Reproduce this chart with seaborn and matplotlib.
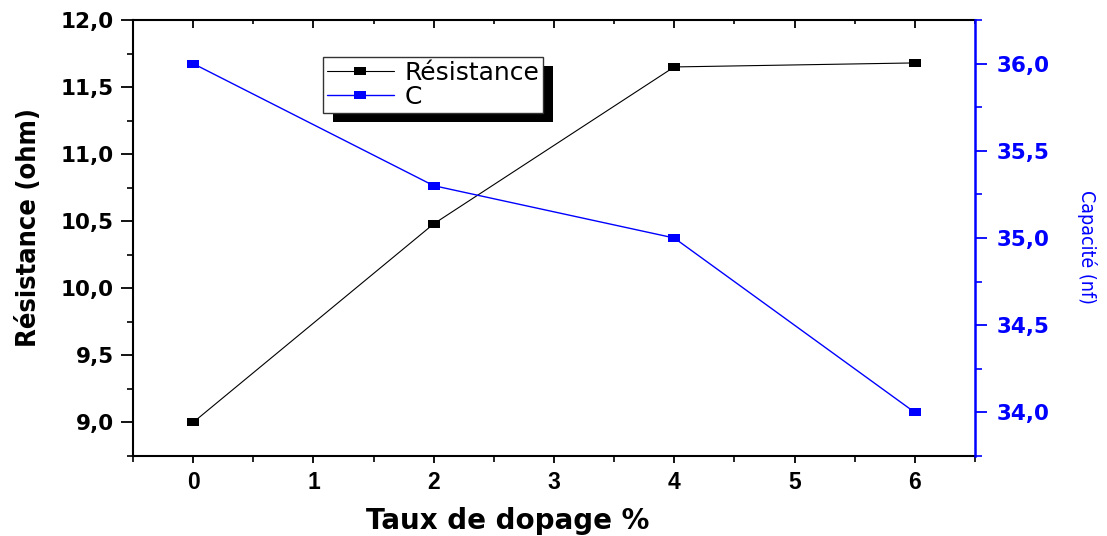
import matplotlib
matplotlib.use("Agg")
import matplotlib.pyplot as plt
from matplotlib import font_manager
from matplotlib.patches import Rectangle
from matplotlib.ticker import MultipleLocator, FuncFormatter
import seaborn as sns
import pandas as pd

# Doping rate (%) and measured values
dopage = [0, 2, 4, 6]
resistance = [9.0, 10.48, 11.65, 11.68]   # ohm
capacite = [36.0, 35.3, 35.0, 34.0]       # nF

sns.set_style("ticks")
plt.rcParams["font.family"] = ["DejaVu Sans"]
plt.rcParams["text.color"] = "black"
plt.rcParams["axes.labelcolor"] = "black"
plt.rcParams["xtick.color"] = "black"
plt.rcParams["ytick.color"] = "black"

# condensed face for the axis titles, if present
fonts = font_manager.fontManager.ttflist
has_narrow = any(f.name == "Liberation Sans Narrow" for f in fonts)
has_cond = any(f.name == "DejaVu Sans" and f.stretch == "condensed" for f in fonts)
if has_narrow:
    cond = dict(family="Liberation Sans Narrow")
    ysize, rsize = 24.5, 16
elif has_cond:
    cond = dict(family="DejaVu Sans", stretch="condensed")
    ysize, rsize = 19.5, 14
else:
    cond = dict(family="Liberation Sans")
    ysize, rsize = 20, 14

BLUE = "#0000FF"
# slightly wide rectangular marker
rect_marker = [(-1.35, -1), (1.35, -1), (1.35, 1), (-1.35, 1), (-1.35, -1)]

df = pd.DataFrame({"dopage": dopage, "resistance": resistance, "capacite": capacite})

fig = plt.figure(figsize=(11.07, 5.36), dpi=100)
ax = fig.add_axes([0.1201, 0.1493, 0.7606, 0.8134])
ax2 = ax.twinx()

sns.lineplot(data=df, x="dopage", y="resistance", ax=ax, color="black", lw=0.8,
             marker=rect_marker, markersize=8.6, markeredgewidth=0,
             markerfacecolor="black", label="Résistance", legend=False)
sns.lineplot(data=df, x="dopage", y="capacite", ax=ax2, color=BLUE, lw=1.0,
             marker=rect_marker, markersize=8.6, markeredgewidth=0,
             markerfacecolor=BLUE, label="C", legend=False)

comma = FuncFormatter(lambda v, p: f"{v:.1f}".replace(".", ","))

ax.set_xlim(-0.5, 6.5)
ax.set_ylim(8.75, 12.0)
ax2.set_ylim(33.75, 36.25)

ax.xaxis.set_major_locator(MultipleLocator(1))
ax.xaxis.set_minor_locator(MultipleLocator(0.5))
ax.yaxis.set_major_locator(MultipleLocator(0.5))
ax.yaxis.set_minor_locator(MultipleLocator(0.25))
ax.yaxis.set_major_formatter(comma)
ax2.yaxis.set_major_locator(MultipleLocator(0.5))
ax2.yaxis.set_minor_locator(MultipleLocator(0.25))
ax2.yaxis.set_major_formatter(comma)

for s in ["left", "bottom", "top"]:
    ax.spines[s].set_linewidth(1.5)
    ax.spines[s].set_color("black")
ax.spines["right"].set_visible(False)
for s in ["left", "bottom", "top"]:
    ax2.spines[s].set_visible(False)
ax2.spines["right"].set_visible(True)
ax2.spines["right"].set_color(BLUE)
ax2.spines["right"].set_linewidth(1.8)

ax.tick_params(axis="y", which="major", direction="out", length=8.6, width=1.3, pad=5,
               labelsize=15.5, colors="black")
ax.tick_params(axis="y", which="minor", direction="out", length=4.5, width=1.2)
ax.tick_params(axis="x", which="major", direction="out", length=5, width=1.3, pad=6,
               labelsize=16.5, top=True, colors="black", labelfontfamily="Liberation Sans")
ax.tick_params(axis="x", which="minor", direction="out", length=4, width=1.2, top=True)
ax2.tick_params(axis="y", which="major", direction="out", length=8.6, width=1.3, pad=7,
                labelsize=15.5, colors=BLUE, right=True, left=False)
ax2.tick_params(axis="y", which="minor", direction="out", length=5, width=1.2,
                colors=BLUE, right=True, left=False)

for lbl in ax.get_xticklabels():
    lbl.set_fontweight("bold")
for lbl in ax.get_yticklabels() + ax2.get_yticklabels():
    lbl.set_fontweight("bold")

# inward ticks along the top border
for tl in ax.xaxis.get_major_ticks():
    tl.tick2line.set_marker(matplotlib.lines.TICKDOWN)
    tl.tick2line.set_markersize(6)
for tl in ax.xaxis.get_minor_ticks():
    tl.tick2line.set_marker(matplotlib.lines.TICKDOWN)
    tl.tick2line.set_markersize(3)

ax.set_xlabel("Taux de dopage %", fontsize=20, fontweight="bold")
ax.xaxis.set_label_coords(0.445, -0.117)
ax.set_ylabel("Résistance (ohm)", fontsize=ysize, fontweight="bold", **cond)
ax.yaxis.set_label_coords(-0.108, 0.523)
ax2.set_ylabel("Capacité (nf)", fontsize=rsize, color=BLUE, rotation=270, **cond)
ax2.yaxis.set_label_coords(1.145, 0.48)

h1, l1 = ax.get_legend_handles_labels()
h2, l2 = ax2.get_legend_handles_labels()
leg = ax2.legend(h1 + h2, l1 + l2, loc="upper left", bbox_to_anchor=(0.2257, 0.915),
                 borderaxespad=0, fancybox=False, frameon=True, edgecolor="#333333",
                 framealpha=1, fontsize=18, handlelength=2.7, handletextpad=0.4,
                 labelspacing=0.0, borderpad=0.15, numpoints=1)
leg.get_frame().set_linewidth(1.0)
leg.set_zorder(10)

# solid drop shadow behind the legend box
fig.canvas.draw()
bb = leg.get_window_extent().transformed(fig.transFigure.inverted())
dx, dy = 10 / fig.bbox.width, 9 / fig.bbox.height
shadow = Rectangle((bb.x0 + dx, bb.y0 - dy), bb.width, bb.height, transform=fig.transFigure,
                   facecolor="black", edgecolor="none", zorder=9)
ax2.add_artist(shadow)

fig.savefig("out.png", dpi=100)
